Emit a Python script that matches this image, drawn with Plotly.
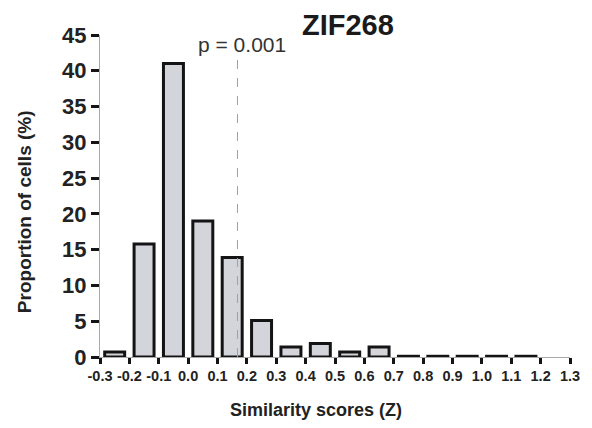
import plotly.graph_objects as go

bin_centers = [-0.25, -0.15, -0.05, 0.05, 0.15, 0.25, 0.35, 0.45, 0.55, 0.65, 0.75, 0.85, 0.95, 1.05, 1.15, 1.25]
proportions = [0.7, 15.8, 41.0, 19.0, 13.9, 5.1, 1.4, 1.9, 0.7, 1.4, 0.1, 0.1, 0.1, 0.1, 0.1, 0.0]
tick_vals = [-0.3, -0.2, -0.1, 0.0, 0.1, 0.2, 0.3, 0.4, 0.5, 0.6, 0.7, 0.8, 0.9, 1.0, 1.1, 1.2, 1.3]
tick_text = ["-0.3", "-0.2", "-0.1", "0.0", "0.1", "0.2", "0.3", "0.4", "0.5", "0.6", "0.7", "0.8", "0.9", "1.0", "1.1", "1.2", "1.3"]
y_ticks = [0, 5, 10, 15, 20, 25, 30, 35, 40, 45]
p_threshold = 0.168
p_label = "p = 0.001"
title_text = "ZIF268"

FONT = "Arial, Liberation Sans, sans-serif"

outline_widths = [3 if v > 0 else 0 for v in proportions]

fig = go.Figure()
fig.add_trace(go.Bar(
    x=bin_centers, y=proportions, width=0.068,
    marker=dict(color="#d4d5da", line=dict(color="#141414", width=outline_widths)),
))

fig.add_shape(type="line", x0=p_threshold, x1=p_threshold, y0=0, y1=42,
              xref="x", yref="y", line=dict(color="#a0a0a0", width=1, dash="dash"))


def ann(px, py, text, **kw):
    fig.add_annotation(x=(px - 99.5) / 474, y=(357 - py) / 322, xref="paper", yref="paper",
                       xanchor="center", yanchor="middle", text=text, showarrow=False, **kw)


ann(243, 44, p_label, font=dict(family=FONT, size=21, color="#333"))
ann(350, 25, title_text, font=dict(family=FONT, size=29, color="#1a1a1a", weight="bold"))
ann(317, 410, "Similarity scores (Z)", font=dict(family=FONT, size=18, color="#222", weight="bold"))
ann(23, 212, "Proportion of cells (%)", textangle=-90,
    font=dict(family=FONT, size=19, color="#222", weight="bold"))

fig.update_layout(
    width=584, height=412,
    margin=dict(l=92, r=18, t=27, b=63),
    plot_bgcolor="white", paper_bgcolor="white",
    showlegend=False,
    font=dict(family=FONT, color="#222"),
    xaxis=dict(range=[-0.3, 1.3], tickvals=tick_vals, ticktext=tick_text,
               showgrid=False, zeroline=False, showline=True, linecolor="#aaaaaa", linewidth=1,
               ticks="outside", ticklen=6, tickwidth=3, tickcolor="#141414",
               ticklabeloverflow="allow",
               tickfont=dict(family=FONT, size=14.5, color="#222", weight="bold")),
    yaxis=dict(range=[0, 45], tickvals=y_ticks,
               showgrid=False, zeroline=False, showline=True, linecolor="#aaaaaa", linewidth=1,
               ticks="outside", ticklen=8, tickwidth=3, tickcolor="#141414",
               tickfont=dict(family=FONT, size=22, color="#222", weight="bold")),
)

fig.write_html("out.html")
